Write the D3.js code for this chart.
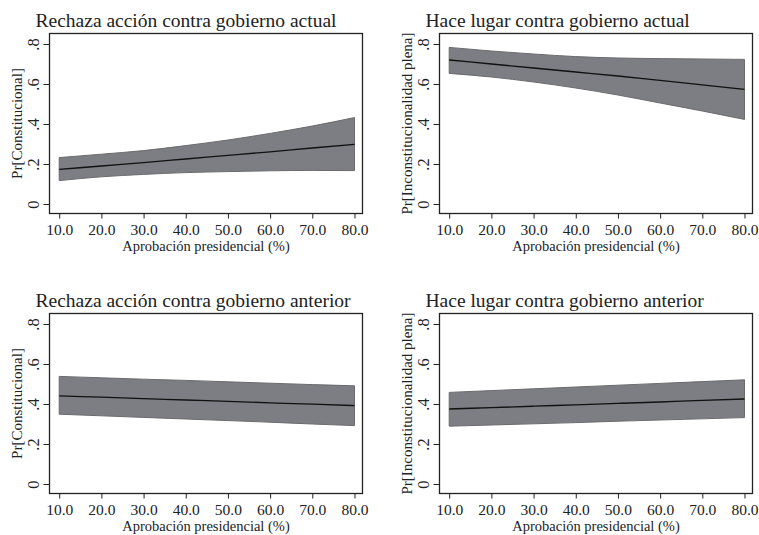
<!DOCTYPE html>
<html>
<head>
<meta charset="utf-8">
<title>Probabilidades predichas</title>
<script src="https://d3js.org/d3.v7.min.js"></script>
<style>
  body { margin: 0; background: #fff; }
  text { font-family: "Liberation Serif", "Times New Roman", serif; fill: #222; }
</style>
</head>
<body>
<svg width="759" height="535"></svg>
<script>
// x values (aprobacion presidencial, %)
var approval = [10, 20, 30, 40, 50, 60, 70, 80];
var xTicks = [10, 20, 30, 40, 50, 60, 70, 80];
var yTicks = [0, 0.2, 0.4, 0.6, 0.8];

var titles = [
  "Rechaza acción contra gobierno actual",
  "Hace lugar contra gobierno actual",
  "Rechaza acción contra gobierno anterior",
  "Hace lugar contra gobierno anterior"
];
var yTitles = ["Pr[Constitucional]", "Pr[Inconstitucionalidad plena]",
               "Pr[Constitucional]", "Pr[Inconstitucionalidad plena]"];

// predicted probabilities, with lower / upper bounds
var mean1  = [0.173, 0.190, 0.207, 0.225, 0.243, 0.261, 0.280, 0.298];
var lower1 = [0.117, 0.136, 0.148, 0.157, 0.162, 0.166, 0.168, 0.167];
var upper1 = [0.232, 0.249, 0.267, 0.292, 0.320, 0.353, 0.390, 0.432];

var mean2  = [0.720, 0.700, 0.680, 0.660, 0.640, 0.618, 0.596, 0.573];
var lower2 = [0.653, 0.635, 0.610, 0.580, 0.545, 0.505, 0.465, 0.423];
var upper2 = [0.783, 0.765, 0.750, 0.737, 0.730, 0.727, 0.725, 0.723];

var mean3  = [0.441, 0.434, 0.427, 0.420, 0.413, 0.406, 0.399, 0.392];
var lower3 = [0.349, 0.341, 0.333, 0.325, 0.317, 0.309, 0.300, 0.292];
var upper3 = [0.538, 0.531, 0.524, 0.518, 0.511, 0.504, 0.497, 0.491];

var mean4  = [0.375, 0.382, 0.389, 0.396, 0.403, 0.410, 0.418, 0.425];
var lower4 = [0.289, 0.295, 0.301, 0.307, 0.314, 0.320, 0.326, 0.332];
var upper4 = [0.458, 0.467, 0.476, 0.485, 0.494, 0.503, 0.512, 0.521];

var means = [mean1, mean2, mean3, mean4],
    lowers = [lower1, lower2, lower3, lower4],
    uppers = [upper1, upper2, upper3, upper4];

var svg = d3.select("svg");

// panel frames: left, top, width, height
var frames = [
  {x: 49.5, y: 33.5, w: 313, h: 180},
  {x: 439.5, y: 33.5, w: 313, h: 180},
  {x: 49.5, y: 313.5, w: 313, h: 180},
  {x: 439.5, y: 313.5, w: 313, h: 180}
];

frames.forEach(function(f, i) {
  var g = svg.append("g").attr("transform", "translate(" + f.x + "," + f.y + ")");

  var x = d3.scaleLinear().domain([7.7, 81.9]).range([0, f.w]);
  var y = d3.scaleLinear().domain([-0.0475, 0.8525]).range([f.h, 0]);

  var rows = approval.map(function(a, j) {
    return {x: a, m: means[i][j], lo: lowers[i][j], hi: uppers[i][j]};
  });

  var area = d3.area()
    .x(function(d) { return x(d.x); })
    .y0(function(d) { return y(d.lo); })
    .y1(function(d) { return y(d.hi); })
    .curve(d3.curveMonotoneX);

  var line = d3.line()
    .x(function(d) { return x(d.x); })
    .y(function(d) { return y(d.m); })
    .curve(d3.curveMonotoneX);

  g.append("path").datum(rows)
    .attr("d", area)
    .attr("fill", "#7d7e83")
    .attr("stroke", "#6b6b6e")
    .attr("stroke-width", 1);

  g.append("path").datum(rows)
    .attr("d", line)
    .attr("fill", "none")
    .attr("stroke", "#111")
    .attr("stroke-width", 1.3);

  g.append("rect")
    .attr("width", f.w).attr("height", f.h)
    .attr("fill", "none")
    .attr("stroke", "#222")
    .attr("stroke-width", 1.3);

  // x axis
  var xAxis = g.append("g")
    .attr("transform", "translate(0," + f.h + ")")
    .call(d3.axisBottom(x).tickValues(xTicks).tickSize(5).tickPadding(5)
      .tickFormat(d3.format(".1f")));
  xAxis.select(".domain").remove();
  xAxis.selectAll("line").attr("stroke", "#222");
  xAxis.selectAll("text")
    .attr("font-size", 15.5)
    .attr("fill", "#222");

  // y axis, rotated labels
  var yAxis = g.append("g")
    .call(d3.axisLeft(y).tickValues(yTicks).tickSize(6)
      .tickFormat(function(d) { return d === 0 ? "0" : d3.format(".1f")(d).replace(/^0/, ""); }));
  yAxis.select(".domain").remove();
  yAxis.selectAll("line").attr("stroke", "#222");
  yAxis.selectAll("text")
    .attr("font-size", 16.5)
    .attr("fill", "#222")
    .attr("x", null).attr("dy", null)
    .attr("text-anchor", "middle")
    .attr("transform", "translate(-11,0) rotate(-90)");

  g.append("text")
    .attr("x", -14).attr("y", -7)
    .attr("font-size", 19.5)
    .text(titles[i]);

  g.append("text")
    .attr("x", f.w / 2).attr("y", f.h + 37.5)
    .attr("text-anchor", "middle")
    .attr("font-size", 14.5)
    .text("Aprobación presidencial (%)");

  g.append("text")
    .attr("transform", "translate(-28," + (f.h / 2) + ") rotate(-90)")
    .attr("text-anchor", "middle")
    .attr("font-size", 15)
    .text(yTitles[i]);
});
</script>
</body>
</html>
